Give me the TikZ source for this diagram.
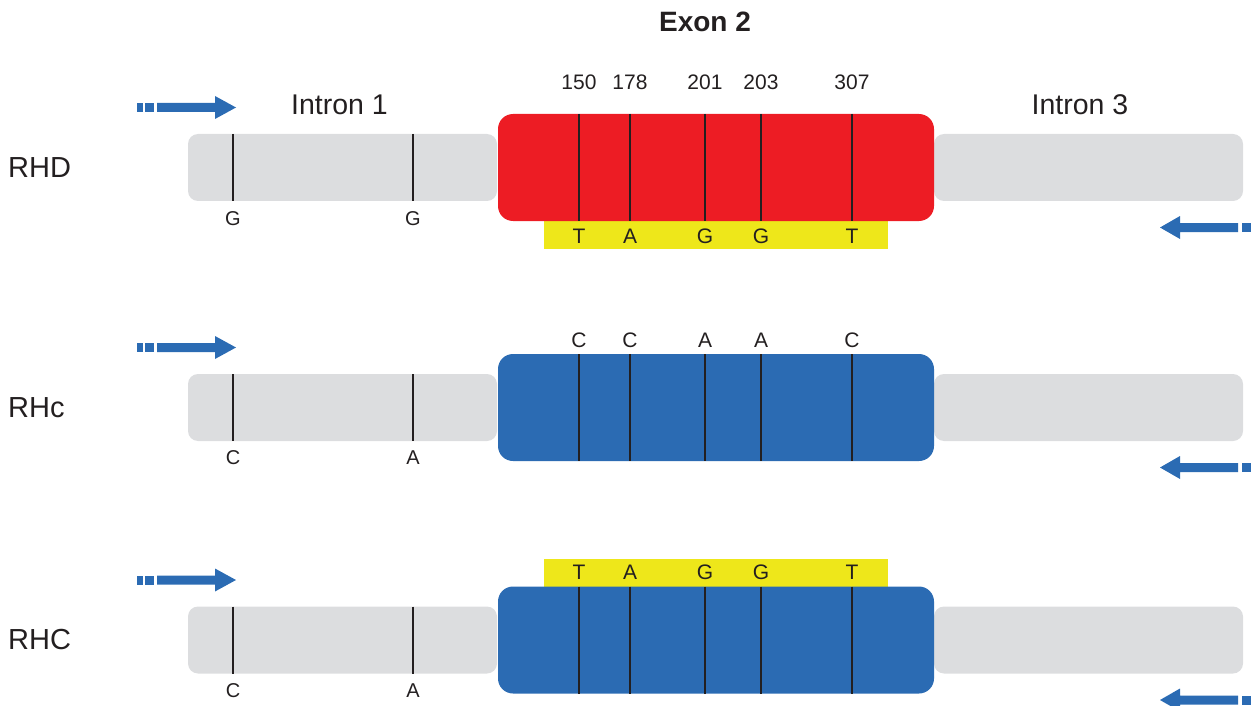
\documentclass[tikz,border=0pt]{standalone}
\usepackage{fontspec}
\setmainfont{Liberation Sans}
\definecolor{exred}{HTML}{ED1C24}
\definecolor{exblue}{HTML}{2B6BB3}
\definecolor{intgray}{HTML}{DCDDDF}
\definecolor{snpyellow}{HTML}{EEE71A}
\definecolor{ink}{HTML}{231F20}
\tikzset{
  intron/.style={fill=intgray, rounded corners=10pt, inner sep=0pt,
                 minimum width=309pt, minimum height=67pt},
  exon/.style={rounded corners=15pt, inner sep=0pt,
               minimum width=436pt, minimum height=107pt},
  snpbar/.style={fill=snpyellow, inner sep=0pt,
                 minimum width=344pt, minimum height=28pt},
  site/.style={draw=ink, line width=2.7pt},
  intronbase/.style={text=ink, inner sep=0pt, font=\fontsize{20}{20}\selectfont},
  exonbase/.style={text=ink, inner sep=0pt, font=\fontsize{21}{21}\selectfont},
  allele/.style={text=ink, inner sep=0pt, font=\fontsize{29}{29}\selectfont},
  regionlbl/.style={text=ink, inner sep=0pt, font=\fontsize{28.5}{28.5}\selectfont},
  exonhead/.style={text=ink, inner sep=0pt, font=\fontsize{28}{28}\bfseries\selectfont},
  pics/fwdprimer/.style={code={
    \fill[exblue] (-99,-4.5) rectangle (-93,4.5);
    \fill[exblue] (-91,-4.5) rectangle (-82,4.5);
    \fill[exblue] (-79,-4.5) -- (-21,-4.5) -- (-21,-11.5) -- (0,0)
                  -- (-21,11.5) -- (-21,4.5) -- (-79,4.5) -- cycle;
  }},
  pics/revprimer/.style={code={
    \fill[exblue] (82,-4.5) rectangle (91,4.5);
    \fill[exblue] (78,-4.5) -- (20,-4.5) -- (20,-11.5) -- (0,0)
                  -- (20,11.5) -- (20,4.5) -- (78,4.5) -- cycle;
  }},
}
\begin{document}
\begin{tikzpicture}[x=1pt,y=-1pt]
\useasboundingbox (0,0) rectangle (1251,706);

% headings
\node[exonhead] (exontitle) at (705,22) {Exon 2};
\node[regionlbl] (introntitleA) at (339.5,105) {Intron 1};
\node[regionlbl] (introntitleB) at (1080,105) {Intron 3};

% ---------- RHD ----------
\def\c{167.5}
\node[allele, anchor=west] (lblD) at (8,\c) {RHD};
\pic at (236,\c-60) {fwdprimer};
\pic at (1160,\c+60) {revprimer};
\node[intron] (inDa) at (342.5,\c) {};
\node[intron] (inDb) at (1088.5,\c) {};
\node[snpbar] (snpD) at (716,\c+67.5) {};
\node[exon, fill=exred] (exD) at (716,\c) {};
\foreach \x in {233,413} \draw[site] (\x,\c-33.5) -- (\x,\c+33.5);
\foreach \x in {579,630,705,761,852} \draw[site] (\x,\c-53.5) -- (\x,\c+53.5);
\foreach \x/\t in {579/150,630/178,705/201,761/203,852/307}
  \node[exonbase] at (\x,\c-85.5) {\t};
\foreach \x/\t in {579/T,630/A,705/G,761/G,852/T}
  \node[exonbase] at (\x,\c+68.5) {\t};
\foreach \x/\t in {233/G,413/G}
  \node[intronbase] at (\x,\c+51) {\t};

% ---------- RHc ----------
\def\c{407.5}
\node[allele, anchor=west] (lblc) at (8,\c) {RHc};
\pic at (236,\c-60) {fwdprimer};
\pic at (1160,\c+60) {revprimer};
\node[intron] (inca) at (342.5,\c) {};
\node[intron] (incb) at (1088.5,\c) {};
\node[exon, fill=exblue] (exc) at (716,\c) {};
\foreach \x in {233,413} \draw[site] (\x,\c-33.5) -- (\x,\c+33.5);
\foreach \x in {579,630,705,761,852} \draw[site] (\x,\c-53.5) -- (\x,\c+53.5);
\foreach \x/\t in {579/C,630/C,705/A,761/A,852/C}
  \node[exonbase] at (\x,\c-67.5) {\t};
\foreach \x/\t in {233/C,413/A}
  \node[intronbase] at (\x,\c+50.5) {\t};

% ---------- RHC ----------
\def\c{640}
\node[allele, anchor=west] (lblC) at (8,\c) {RHC};
\pic at (236,\c-60) {fwdprimer};
\pic at (1160,\c+60) {revprimer};
\node[intron] (inCa) at (342.5,\c) {};
\node[intron] (inCb) at (1088.5,\c) {};
\node[snpbar] (snpC) at (716,\c-67.5) {};
\node[exon, fill=exblue] (exC) at (716,\c) {};
\foreach \x in {233,413} \draw[site] (\x,\c-33.5) -- (\x,\c+33.5);
\foreach \x in {579,630,705,761,852} \draw[site] (\x,\c-53.5) -- (\x,\c+53.5);
\foreach \x/\t in {579/T,630/A,705/G,761/G,852/T}
  \node[exonbase] at (\x,\c-67.5) {\t};
\foreach \x/\t in {233/C,413/A}
  \node[intronbase] at (\x,\c+50.5) {\t};
\end{tikzpicture}
\end{document}
